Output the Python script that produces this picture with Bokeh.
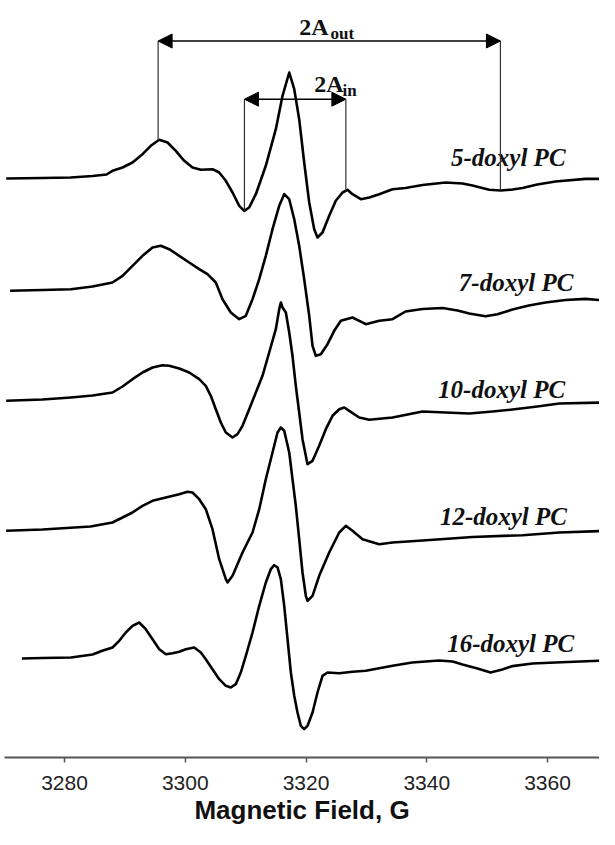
import numpy as np
from bokeh.plotting import figure
from bokeh.models import Range1d, FixedTicker, Arrow, NormalHead, Title
from bokeh.core.properties import value
from bokeh.embed import file_html
from bokeh.resources import INLINE

# ---------------- data ----------------
# magnetic field (G) and first-derivative EPR amplitude (arb. units)
field_5 = [3270.34, 3276.36, 3281.0, 3284.64, 3286.96, 3287.95, 3289.61, 3291.26, 3292.92, 3294.29,
           3295.69, 3297.06, 3298.43, 3299.83, 3301.20, 3302.58, 3304.51, 3305.62, 3306.72, 3307.83,
           3308.94, 3309.76, 3310.59, 3311.69, 3313.34, 3315.00, 3316.11, 3317.22, 3318.05, 3318.87,
           3319.70, 3320.53, 3321.36, 3321.90, 3322.73, 3323.84, 3324.93, 3326.05, 3326.87, 3327.70,
           3329.08, 3330.47, 3332.12, 3334.33, 3336.48, 3339.30, 3343.11, 3345.90, 3347.58, 3350.34,
           3352.26, 3354.20, 3355.86, 3358.30, 3361.32, 3366.29, 3369.60]
amp_5 = [0, 0.5, 1, 2.5, 4, 7.7, 11, 16, 24.3, 32.7,
         38.7, 36, 27.7, 17.7, 11, 8.7, 9.3, 6, -2.3, -14,
         -27.3, -32.3, -29, -15.7, 12.7, 49.3, 82.7, 106, 89.3, 59.3,
         16, -24, -50.7, -59, -54, -37.3, -22.3, -14, -11.3, -15.7,
         -20.7, -19, -15.7, -10.7, -9.5, -6.5, -4, -5, -7, -11.3,
         -12, -11, -9.5, -6, -3, -0.4, -0.4]

field_7 = [3270.99, 3276.36, 3281.06, 3284.64, 3287.95, 3289.61, 3291.26, 3292.92, 3294.58, 3295.95,
           3297.34, 3299.00, 3300.65, 3302.31, 3303.68, 3305.06, 3306.17, 3307.54, 3308.94, 3310.03,
           3311.14, 3312.25, 3313.34, 3314.45, 3315.56, 3316.39, 3317.22, 3318.05, 3318.87, 3319.70,
           3320.53, 3321.08, 3321.62, 3322.45, 3323.56, 3324.67, 3325.77, 3327.70, 3329.91, 3332.12,
           3334.33, 3336.48, 3339.30, 3342.61, 3345.10, 3347.03, 3349.73, 3351.70, 3354.20, 3356.90,
           3359.67, 3362.98, 3366.29, 3369.60]
amp_7 = [-0.3, 0.5, 1.3, 4, 8, 14.7, 24.7, 34.7, 43, 44.7,
         41.3, 34.7, 28, 21.3, 16.3, 8, -8.7, -22, -28.7, -25.3,
         -8.7, 11.3, 34.7, 61.3, 84.7, 96.3, 91.3, 71.3, 44.7, 11.3,
         -25.3, -55.3, -65.3, -63.7, -53.7, -40.3, -30.3, -27, -33.7, -30.3,
         -28.7, -21, -18.5, -17.5, -20, -23, -25.8, -23.7, -19, -15,
         -12, -9.5, -8.4, -10]

field_10 = [3270.34, 3276.36, 3281.06, 3284.64, 3287.95, 3289.61, 3291.26, 3292.92, 3294.58, 3296.23,
            3297.34, 3299.00, 3300.65, 3302.31, 3303.40, 3304.23, 3305.06, 3305.89, 3306.72, 3307.83,
            3308.65, 3309.48, 3310.59, 3311.69, 3312.79, 3313.90, 3315.00, 3315.56, 3315.83, 3316.11,
            3316.66, 3317.22, 3317.76, 3318.31, 3318.87, 3319.42, 3320.25, 3321.08, 3322.18, 3323.28,
            3324.39, 3325.50, 3326.33, 3327.16, 3328.81, 3330.47, 3334.33, 3339.30, 3343.11, 3347.03,
            3350.90, 3354.20, 3358.30, 3361.94, 3369.60]
amp_10 = [-0.3, 1, 3, 5, 8, 14, 21.3, 28, 33, 35.3,
          34.7, 32, 28, 21.3, 14.7, 4.7, -8.7, -22, -32, -37,
          -33.7, -25.3, -8.7, 8, 24.7, 48, 71.3, 91.3, 98, 93,
          88, 68, 44.7, 14.7, -12, -38.7, -63.7, -60.3, -45.3, -28.7,
          -15.3, -8.7, -7, -10.3, -17, -19.3, -17, -11, -12, -13,
          -11, -9, -6, -3, -2]

field_12 = [3270.34, 3276.36, 3284.31, 3287.95, 3289.61, 3291.26, 3292.92, 3294.58, 3296.78, 3299.00,
            3300.37, 3301.20, 3302.31, 3303.40, 3304.51, 3305.62, 3306.72, 3307.00, 3307.83, 3309.48,
            3311.14, 3312.25, 3313.34, 3314.45, 3315.28, 3315.83, 3316.39, 3317.22, 3317.76, 3318.31,
            3318.87, 3319.42, 3319.97, 3320.25, 3321.08, 3322.18, 3323.84, 3325.50, 3326.59, 3327.70,
            3329.36, 3332.12, 3334.33, 3339.30, 3347.58, 3355.86, 3361.94, 3369.60]
amp_12 = [-0.3, 1, 4, 8, 13, 18, 24.7, 29.7, 33, 36.3,
          38.7, 38, 31.3, 21.3, 1.3, -28.7, -48.7, -52, -45.3, -22,
          -2, 21.3, 51.3, 78, 98, 103, 99.7, 78, 51.3, 24.7,
          -8.7, -42, -65.3, -70.3, -65.3, -45.3, -22, -2, 4.7, -0.3,
          -8.7, -13.7, -12, -10, -6.5, -4.7, -2, -0.4]

field_16 = [3272.94, 3276.36, 3281.06, 3284.64, 3286.26, 3287.95, 3289.06, 3290.15, 3291.26, 3292.37,
            3293.46, 3294.58, 3295.69, 3296.78, 3297.89, 3299.00, 3300.09, 3301.48, 3302.58, 3303.40,
            3304.51, 3305.62, 3306.72, 3307.54, 3308.37, 3309.20, 3310.03, 3311.14, 3312.25, 3313.34,
            3314.17, 3314.73, 3315.29, 3315.83, 3316.39, 3316.94, 3317.49, 3318.05, 3318.59, 3319.14,
            3319.70, 3320.25, 3321.08, 3321.90, 3322.73, 3323.56, 3325.50, 3327.70, 3329.91, 3334.33,
            3337.60, 3342.06, 3344.30, 3345.92, 3348.40, 3350.56, 3352.50, 3354.20, 3357.50, 3361.32,
            3369.60]
amp_16 = [0, 0.5, 1, 4, 7.7, 11, 17.7, 26, 32.7, 36,
          29.3, 19.3, 9.3, 4.3, 5.3, 6.7, 9.3, 11, 6, -0.7,
          -10.7, -20.7, -27.3, -29, -25.7, -14, 2.7, 26, 52.7, 76,
          89.3, 93.3, 91, 79.3, 52.7, 19.3, -14, -37.3, -54, -67.3,
          -70.7, -67.3, -54, -34, -17.3, -14, -14.7, -13.3, -12.3, -7.3,
          -4, -2, -3, -6, -10, -14, -11, -7.6, -5, -4,
          -2]

series_names = ["5-doxyl PC", "7-doxyl PC", "10-doxyl PC", "12-doxyl PC", "16-doxyl PC"]
series_fields = [field_5, field_7, field_10, field_12, field_16]
series_amps = [amp_5, amp_7, amp_10, amp_12, amp_16]
offsets = [579, 467, 357, 227, 99]          # vertical stacking offsets
label_x = [3353.5, 3354.8, 3352.4, 3352.7, 3353.9]
label_y = [600, 475, 368, 241.5, 114.5]

tick_values = [3280, 3300, 3320, 3340, 3360]
x_lo, x_hi = 3270.06, 3368.61
y_lo, y_hi = 0, 757

# splittings marked on the 5-doxyl spectrum (G)
a_out_fields = [3295.5, 3352.2]
a_in_fields = [3309.8, 3326.6]
a_out_y = 716.5
a_in_y = 658.3

# ---------------- figure ----------------
p = figure(width=599, height=829, output_backend="svg", toolbar_location=None,
           x_range=Range1d(x_lo, x_hi), y_range=Range1d(y_lo, y_hi),
           y_axis_location=None, min_border_left=4, min_border_right=0,
           min_border_top=0, min_border_bottom=72)
p.outline_line_color = None
p.xgrid.visible = False
p.ygrid.visible = False
p.background_fill_color = "white"
p.border_fill_color = "white"

ax = p.xaxis[0]
ax.ticker = FixedTicker(ticks=tick_values)
ax.axis_line_color = "#555555"
ax.axis_line_width = 2
ax.major_tick_line_color = "#555555"
ax.major_tick_line_width = 1.5
ax.major_tick_out = 5
ax.major_tick_in = 0
ax.minor_tick_out = 0
ax.minor_tick_in = 0
ax.major_label_text_font = "Liberation Sans"
ax.major_label_text_font_size = "21px"
ax.major_label_text_color = "#222222"
ax.major_label_standoff = 13

# spectra
for f, a, off in zip(series_fields, series_amps, offsets):
    ys = [v + off for v in a]
    p.line(f, ys, line_color="black", line_width=2.6, line_join="round")

# labels
p.text(x=label_x, y=label_y, text=series_names, text_font=value("Liberation Serif"),
       text_font_style="bold italic", text_font_size="25px", text_align="center",
       text_baseline="alphabetic", text_color="#111111")

# splitting markers
f5 = np.array(field_5)
y5 = np.array(amp_5) + offsets[0]
out_ends = [float(np.interp(x, f5, y5)) for x in a_out_fields]
in_ends = [float(np.interp(x, f5, y5)) for x in a_in_fields]
p.segment(x0=a_out_fields, y0=[a_out_y, a_out_y], x1=a_out_fields, y1=out_ends,
          line_color="#333333", line_width=1.2)
p.segment(x0=a_in_fields, y0=[a_in_y, a_in_y], x1=a_in_fields, y1=in_ends,
          line_color="#333333", line_width=1.2)

for xs, yy in ((a_out_fields, a_out_y), (a_in_fields, a_in_y)):
    p.add_layout(Arrow(start=NormalHead(size=14, fill_color="black", line_color="black"),
                       end=NormalHead(size=14, fill_color="black", line_color="black"),
                       x_start=xs[0], y_start=yy, x_end=xs[1], y_end=yy,
                       line_color="black", line_width=1.6))

# 2A_out / 2A_in labels (main text + subscript)
p.text(x=[3318.9, 3321.35], y=[730.5, 674], text=["2A", "2A"],
       text_font=value("Liberation Serif"), text_font_style="bold",
       text_font_size="24px", text_align="left", text_baseline="alphabetic",
       text_color="#111111")
p.text(x=[3324.06, 3326.04], y=[724.5, 667.5], text=["out", "in"],
       text_font=value("Liberation Serif"), text_font_style="bold",
       text_font_size="17px", text_align="left", text_baseline="alphabetic",
       text_color="#111111")

# axis title
p.add_layout(Title(text="Magnetic Field, G", align="center", offset=17, standoff=0,
                   text_font="Liberation Sans", text_font_style="bold",
                   text_font_size="26px", text_color="#111111"), "below")

open("out.html", "w").write(file_html(p, INLINE))
